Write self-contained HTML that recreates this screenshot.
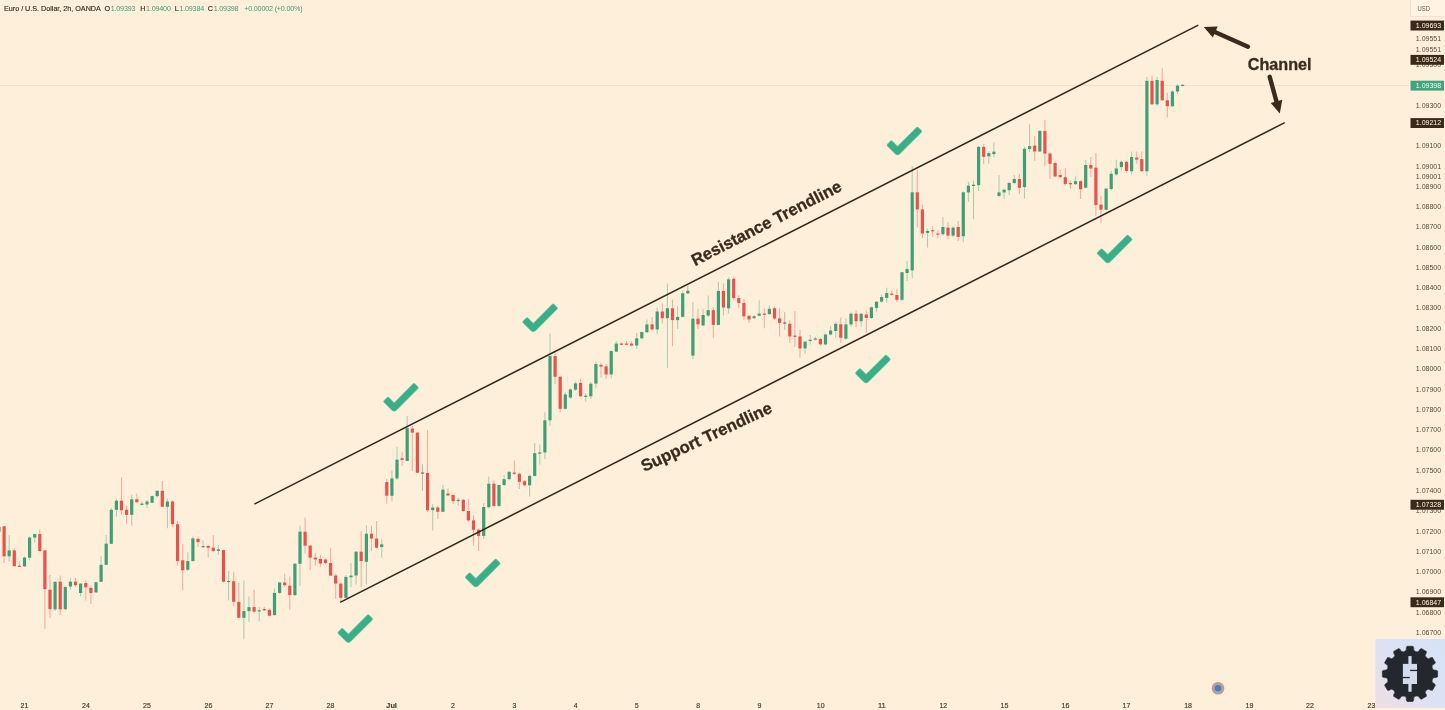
<!DOCTYPE html><html><head><meta charset="utf-8"><title>EURUSD Channel</title><style>html,body{margin:0;padding:0;background:#feefdb;}svg{display:block}</style></head><body><svg width="1445" height="710" viewBox="0 0 1445 710" font-family="Liberation Sans, Arial, sans-serif">
<rect width="1445" height="710" fill="#feefdb"/>
<line x1="0" y1="85.6" x2="1410" y2="85.6" stroke="#eee2cf" stroke-width="1"/>
<g><g stroke-width="1.1" opacity="0.42"><line x1="-1.0" y1="526.9" x2="-1.0" y2="531.7" stroke="#3f9f74"/><line x1="4.1" y1="526.3" x2="4.1" y2="563.0" stroke="#e7524a"/><line x1="9.2" y1="534.9" x2="9.2" y2="561.6" stroke="#3f9f74"/><line x1="14.3" y1="548.3" x2="14.3" y2="566.2" stroke="#e7524a"/><line x1="19.4" y1="561.6" x2="19.4" y2="567.0" stroke="#e7524a"/><line x1="24.5" y1="556.3" x2="24.5" y2="567.0" stroke="#3f9f74"/><line x1="29.6" y1="536.2" x2="29.6" y2="560.3" stroke="#3f9f74"/><line x1="34.7" y1="533.6" x2="34.7" y2="542.4" stroke="#3f9f74"/><line x1="39.8" y1="529.5" x2="39.8" y2="552.3" stroke="#e7524a"/><line x1="44.9" y1="550.4" x2="44.9" y2="629.1" stroke="#e7524a"/><line x1="50.0" y1="575.0" x2="50.0" y2="617.8" stroke="#e7524a"/><line x1="55.1" y1="581.7" x2="55.1" y2="611.1" stroke="#3f9f74"/><line x1="60.2" y1="575.6" x2="60.2" y2="615.1" stroke="#e7524a"/><line x1="65.3" y1="585.7" x2="65.3" y2="609.8" stroke="#3f9f74"/><line x1="70.4" y1="577.7" x2="70.4" y2="589.7" stroke="#3f9f74"/><line x1="75.5" y1="577.7" x2="75.5" y2="587.1" stroke="#e7524a"/><line x1="80.6" y1="583.0" x2="80.6" y2="596.4" stroke="#3f9f74"/><line x1="85.8" y1="580.4" x2="85.8" y2="600.4" stroke="#e7524a"/><line x1="90.9" y1="585.7" x2="90.9" y2="603.9" stroke="#e7524a"/><line x1="96.0" y1="581.7" x2="96.0" y2="592.9" stroke="#3f9f74"/><line x1="101.1" y1="556.3" x2="101.1" y2="581.7" stroke="#3f9f74"/><line x1="106.2" y1="534.9" x2="106.2" y2="564.9" stroke="#3f9f74"/><line x1="111.3" y1="508.1" x2="111.3" y2="543.7" stroke="#3f9f74"/><line x1="116.4" y1="498.8" x2="116.4" y2="516.7" stroke="#3f9f74"/><line x1="121.5" y1="477.4" x2="121.5" y2="514.8" stroke="#e7524a"/><line x1="126.6" y1="505.5" x2="126.6" y2="523.7" stroke="#e7524a"/><line x1="131.7" y1="494.8" x2="131.7" y2="525.5" stroke="#3f9f74"/><line x1="136.8" y1="493.4" x2="136.8" y2="502.8" stroke="#e7524a"/><line x1="141.9" y1="501.5" x2="141.9" y2="505.5" stroke="#3f9f74"/><line x1="147.0" y1="500.1" x2="147.0" y2="508.1" stroke="#3f9f74"/><line x1="152.1" y1="495.6" x2="152.1" y2="503.3" stroke="#3f9f74"/><line x1="157.2" y1="490.2" x2="157.2" y2="497.4" stroke="#3f9f74"/><line x1="162.3" y1="480.9" x2="162.3" y2="506.8" stroke="#e7524a"/><line x1="167.4" y1="498.8" x2="167.4" y2="528.2" stroke="#3f9f74"/><line x1="172.5" y1="500.1" x2="172.5" y2="526.9" stroke="#e7524a"/><line x1="177.6" y1="521.0" x2="177.6" y2="565.7" stroke="#e7524a"/><line x1="182.7" y1="544.3" x2="182.7" y2="590.3" stroke="#e7524a"/><line x1="187.8" y1="552.3" x2="187.8" y2="571.0" stroke="#3f9f74"/><line x1="192.9" y1="536.2" x2="192.9" y2="561.6" stroke="#3f9f74"/><line x1="198.0" y1="536.2" x2="198.0" y2="546.9" stroke="#e7524a"/><line x1="203.1" y1="540.2" x2="203.1" y2="547.7" stroke="#3f9f74"/><line x1="208.2" y1="545.1" x2="208.2" y2="557.6" stroke="#e7524a"/><line x1="213.3" y1="534.9" x2="213.3" y2="552.3" stroke="#e7524a"/><line x1="218.4" y1="545.1" x2="218.4" y2="555.0" stroke="#3f9f74"/><line x1="223.5" y1="549.6" x2="223.5" y2="582.5" stroke="#e7524a"/><line x1="228.6" y1="571.0" x2="228.6" y2="600.4" stroke="#3f9f74"/><line x1="233.7" y1="572.3" x2="233.7" y2="606.6" stroke="#e7524a"/><line x1="238.8" y1="582.5" x2="238.8" y2="617.8" stroke="#e7524a"/><line x1="243.9" y1="580.4" x2="243.9" y2="639.2" stroke="#3f9f74"/><line x1="249.0" y1="596.4" x2="249.0" y2="621.8" stroke="#3f9f74"/><line x1="254.1" y1="589.7" x2="254.1" y2="613.8" stroke="#e7524a"/><line x1="259.2" y1="607.1" x2="259.2" y2="621.3" stroke="#3f9f74"/><line x1="264.3" y1="607.1" x2="264.3" y2="611.1" stroke="#e7524a"/><line x1="269.4" y1="608.5" x2="269.4" y2="616.5" stroke="#e7524a"/><line x1="274.5" y1="588.4" x2="274.5" y2="615.7" stroke="#3f9f74"/><line x1="279.6" y1="581.7" x2="279.6" y2="593.7" stroke="#3f9f74"/><line x1="284.7" y1="573.7" x2="284.7" y2="587.1" stroke="#e7524a"/><line x1="289.8" y1="576.4" x2="289.8" y2="609.8" stroke="#e7524a"/><line x1="294.9" y1="563.0" x2="294.9" y2="595.9" stroke="#3f9f74"/><line x1="300.0" y1="525.5" x2="300.0" y2="585.7" stroke="#3f9f74"/><line x1="305.1" y1="517.5" x2="305.1" y2="553.6" stroke="#e7524a"/><line x1="310.2" y1="545.1" x2="310.2" y2="569.7" stroke="#e7524a"/><line x1="315.3" y1="553.6" x2="315.3" y2="565.7" stroke="#e7524a"/><line x1="320.4" y1="555.0" x2="320.4" y2="567.0" stroke="#e7524a"/><line x1="325.5" y1="558.4" x2="325.5" y2="564.3" stroke="#e7524a"/><line x1="330.6" y1="548.3" x2="330.6" y2="575.6" stroke="#e7524a"/><line x1="335.7" y1="573.7" x2="335.7" y2="599.1" stroke="#e7524a"/><line x1="340.8" y1="581.7" x2="340.8" y2="601.8" stroke="#e7524a"/><line x1="345.9" y1="575.0" x2="345.9" y2="598.6" stroke="#3f9f74"/><line x1="351.0" y1="563.0" x2="351.0" y2="587.1" stroke="#3f9f74"/><line x1="356.1" y1="550.9" x2="356.1" y2="584.4" stroke="#3f9f74"/><line x1="361.2" y1="530.9" x2="361.2" y2="587.1" stroke="#e7524a"/><line x1="366.4" y1="525.2" x2="366.4" y2="584.6" stroke="#3f9f74"/><line x1="371.5" y1="525.7" x2="371.5" y2="551.1" stroke="#e7524a"/><line x1="376.6" y1="520.9" x2="376.6" y2="548.5" stroke="#e7524a"/><line x1="381.7" y1="539.1" x2="381.7" y2="557.8" stroke="#3f9f74"/><line x1="386.8" y1="478.9" x2="386.8" y2="503.8" stroke="#e7524a"/><line x1="391.9" y1="470.3" x2="391.9" y2="501.6" stroke="#3f9f74"/><line x1="397.0" y1="446.8" x2="397.0" y2="480.2" stroke="#3f9f74"/><line x1="402.1" y1="452.2" x2="402.1" y2="465.5" stroke="#e7524a"/><line x1="407.2" y1="416.0" x2="407.2" y2="461.0" stroke="#3f9f74"/><line x1="412.3" y1="425.4" x2="412.3" y2="470.9" stroke="#e7524a"/><line x1="417.4" y1="432.1" x2="417.4" y2="473.6" stroke="#e7524a"/><line x1="422.5" y1="464.2" x2="422.5" y2="490.9" stroke="#7a6a60"/><line x1="427.6" y1="430.0" x2="427.6" y2="512.3" stroke="#e7524a"/><line x1="432.7" y1="504.3" x2="432.7" y2="530.5" stroke="#3f9f74"/><line x1="437.8" y1="505.7" x2="437.8" y2="519.0" stroke="#e7524a"/><line x1="442.9" y1="485.1" x2="442.9" y2="512.3" stroke="#3f9f74"/><line x1="448.0" y1="488.3" x2="448.0" y2="496.3" stroke="#e7524a"/><line x1="453.1" y1="493.6" x2="453.1" y2="504.3" stroke="#e7524a"/><line x1="458.2" y1="497.6" x2="458.2" y2="505.7" stroke="#3f9f74"/><line x1="463.3" y1="499.0" x2="463.3" y2="512.3" stroke="#e7524a"/><line x1="468.4" y1="499.0" x2="468.4" y2="521.7" stroke="#e7524a"/><line x1="473.5" y1="515.0" x2="473.5" y2="545.8" stroke="#e7524a"/><line x1="478.6" y1="528.4" x2="478.6" y2="551.1" stroke="#e7524a"/><line x1="483.7" y1="503.0" x2="483.7" y2="539.1" stroke="#3f9f74"/><line x1="488.8" y1="476.5" x2="488.8" y2="508.6" stroke="#3f9f74"/><line x1="493.9" y1="480.5" x2="493.9" y2="507.2" stroke="#e7524a"/><line x1="499.0" y1="484.5" x2="499.0" y2="507.2" stroke="#3f9f74"/><line x1="504.1" y1="475.1" x2="504.1" y2="485.8" stroke="#3f9f74"/><line x1="509.2" y1="471.1" x2="509.2" y2="480.5" stroke="#3f9f74"/><line x1="514.3" y1="460.4" x2="514.3" y2="475.1" stroke="#e7524a"/><line x1="519.4" y1="472.5" x2="519.4" y2="489.1" stroke="#e7524a"/><line x1="524.5" y1="480.0" x2="524.5" y2="485.8" stroke="#e7524a"/><line x1="529.6" y1="474.6" x2="529.6" y2="496.5" stroke="#3f9f74"/><line x1="534.7" y1="443.0" x2="534.7" y2="476.5" stroke="#3f9f74"/><line x1="539.8" y1="444.4" x2="539.8" y2="464.4" stroke="#3f9f74"/><line x1="544.9" y1="412.3" x2="544.9" y2="459.1" stroke="#3f9f74"/><line x1="550.0" y1="333.4" x2="550.0" y2="425.7" stroke="#3f9f74"/><line x1="555.1" y1="352.1" x2="555.1" y2="384.2" stroke="#e7524a"/><line x1="560.2" y1="376.2" x2="560.2" y2="412.3" stroke="#e7524a"/><line x1="565.3" y1="392.2" x2="565.3" y2="409.6" stroke="#3f9f74"/><line x1="570.4" y1="388.2" x2="570.4" y2="398.9" stroke="#3f9f74"/><line x1="575.5" y1="381.5" x2="575.5" y2="390.9" stroke="#3f9f74"/><line x1="580.6" y1="378.8" x2="580.6" y2="397.0" stroke="#e7524a"/><line x1="585.7" y1="393.6" x2="585.7" y2="401.6" stroke="#3f9f74"/><line x1="590.8" y1="382.1" x2="590.8" y2="398.9" stroke="#3f9f74"/><line x1="595.9" y1="361.5" x2="595.9" y2="388.2" stroke="#3f9f74"/><line x1="601.0" y1="362.8" x2="601.0" y2="377.5" stroke="#e7524a"/><line x1="606.1" y1="363.7" x2="606.1" y2="378.4" stroke="#e7524a"/><line x1="611.2" y1="350.3" x2="611.2" y2="378.4" stroke="#3f9f74"/><line x1="616.3" y1="340.9" x2="616.3" y2="352.2" stroke="#3f9f74"/><line x1="621.4" y1="342.3" x2="621.4" y2="345.5" stroke="#e7524a"/><line x1="626.5" y1="340.9" x2="626.5" y2="345.5" stroke="#e7524a"/><line x1="631.6" y1="340.9" x2="631.6" y2="346.3" stroke="#e7524a"/><line x1="636.7" y1="332.9" x2="636.7" y2="349.0" stroke="#3f9f74"/><line x1="641.8" y1="331.6" x2="641.8" y2="339.6" stroke="#3f9f74"/><line x1="646.9" y1="319.5" x2="646.9" y2="332.9" stroke="#3f9f74"/><line x1="652.1" y1="316.9" x2="652.1" y2="330.2" stroke="#e7524a"/><line x1="657.2" y1="307.5" x2="657.2" y2="334.3" stroke="#3f9f74"/><line x1="662.3" y1="303.5" x2="662.3" y2="323.6" stroke="#e7524a"/><line x1="667.4" y1="283.4" x2="667.4" y2="367.7" stroke="#3f9f74"/><line x1="672.5" y1="299.5" x2="672.5" y2="346.3" stroke="#e7524a"/><line x1="677.6" y1="306.2" x2="677.6" y2="328.9" stroke="#3f9f74"/><line x1="682.7" y1="291.5" x2="682.7" y2="317.4" stroke="#3f9f74"/><line x1="687.8" y1="286.1" x2="687.8" y2="294.1" stroke="#3f9f74"/><line x1="692.9" y1="302.2" x2="692.9" y2="359.1" stroke="#3f9f74"/><line x1="698.0" y1="308.8" x2="698.0" y2="328.9" stroke="#e7524a"/><line x1="703.1" y1="308.8" x2="703.1" y2="326.2" stroke="#3f9f74"/><line x1="708.2" y1="295.5" x2="708.2" y2="316.9" stroke="#3f9f74"/><line x1="713.3" y1="307.5" x2="713.3" y2="338.3" stroke="#e7524a"/><line x1="718.4" y1="282.1" x2="718.4" y2="325.4" stroke="#3f9f74"/><line x1="723.5" y1="283.4" x2="723.5" y2="315.5" stroke="#e7524a"/><line x1="728.6" y1="277.5" x2="728.6" y2="313.6" stroke="#3f9f74"/><line x1="733.7" y1="277.5" x2="733.7" y2="300.2" stroke="#e7524a"/><line x1="738.8" y1="294.9" x2="738.8" y2="308.3" stroke="#e7524a"/><line x1="743.9" y1="298.9" x2="743.9" y2="320.3" stroke="#e7524a"/><line x1="749.0" y1="315.0" x2="749.0" y2="323.0" stroke="#e7524a"/><line x1="754.1" y1="315.0" x2="754.1" y2="319.0" stroke="#3f9f74"/><line x1="759.2" y1="300.2" x2="759.2" y2="316.3" stroke="#3f9f74"/><line x1="764.3" y1="308.3" x2="764.3" y2="328.3" stroke="#e7524a"/><line x1="769.4" y1="305.6" x2="769.4" y2="315.0" stroke="#3f9f74"/><line x1="774.5" y1="306.1" x2="774.5" y2="319.5" stroke="#e7524a"/><line x1="779.6" y1="308.3" x2="779.6" y2="336.4" stroke="#e7524a"/><line x1="784.7" y1="312.3" x2="784.7" y2="329.7" stroke="#7a6a60"/><line x1="789.8" y1="320.3" x2="789.8" y2="343.0" stroke="#e7524a"/><line x1="794.9" y1="310.9" x2="794.9" y2="347.1" stroke="#e7524a"/><line x1="800.0" y1="329.7" x2="800.0" y2="357.8" stroke="#e7524a"/><line x1="805.1" y1="340.4" x2="805.1" y2="353.7" stroke="#3f9f74"/><line x1="810.2" y1="335.0" x2="810.2" y2="344.4" stroke="#3f9f74"/><line x1="815.3" y1="336.4" x2="815.3" y2="340.4" stroke="#3f9f74"/><line x1="820.4" y1="337.7" x2="820.4" y2="345.7" stroke="#e7524a"/><line x1="825.5" y1="333.7" x2="825.5" y2="345.2" stroke="#3f9f74"/><line x1="830.6" y1="325.7" x2="830.6" y2="335.6" stroke="#3f9f74"/><line x1="835.7" y1="321.6" x2="835.7" y2="337.7" stroke="#3f9f74"/><line x1="840.8" y1="317.6" x2="840.8" y2="343.0" stroke="#e7524a"/><line x1="845.9" y1="318.5" x2="845.9" y2="339.9" stroke="#3f9f74"/><line x1="851.0" y1="311.8" x2="851.0" y2="326.5" stroke="#3f9f74"/><line x1="856.1" y1="310.5" x2="856.1" y2="327.1" stroke="#e7524a"/><line x1="861.2" y1="313.2" x2="861.2" y2="326.5" stroke="#3f9f74"/><line x1="866.3" y1="310.5" x2="866.3" y2="333.2" stroke="#e7524a"/><line x1="871.4" y1="306.5" x2="871.4" y2="319.1" stroke="#3f9f74"/><line x1="876.5" y1="301.1" x2="876.5" y2="311.8" stroke="#3f9f74"/><line x1="881.6" y1="294.4" x2="881.6" y2="303.0" stroke="#3f9f74"/><line x1="886.7" y1="287.8" x2="886.7" y2="302.5" stroke="#3f9f74"/><line x1="891.8" y1="290.4" x2="891.8" y2="295.8" stroke="#e7524a"/><line x1="896.9" y1="289.1" x2="896.9" y2="301.9" stroke="#e7524a"/><line x1="902.0" y1="271.7" x2="902.0" y2="301.1" stroke="#3f9f74"/><line x1="907.1" y1="261.0" x2="907.1" y2="281.1" stroke="#3f9f74"/><line x1="912.2" y1="166.0" x2="912.2" y2="278.4" stroke="#3f9f74"/><line x1="917.3" y1="170.1" x2="917.3" y2="227.6" stroke="#e7524a"/><line x1="922.4" y1="204.8" x2="922.4" y2="238.3" stroke="#e7524a"/><line x1="927.5" y1="228.9" x2="927.5" y2="247.6" stroke="#3f9f74"/><line x1="932.7" y1="226.2" x2="932.7" y2="236.9" stroke="#e7524a"/><line x1="937.8" y1="230.2" x2="937.8" y2="238.3" stroke="#e7524a"/><line x1="942.9" y1="216.9" x2="942.9" y2="235.6" stroke="#3f9f74"/><line x1="948.0" y1="222.2" x2="948.0" y2="239.6" stroke="#e7524a"/><line x1="953.1" y1="226.2" x2="953.1" y2="236.9" stroke="#3f9f74"/><line x1="958.2" y1="220.9" x2="958.2" y2="240.9" stroke="#e7524a"/><line x1="963.3" y1="191.5" x2="963.3" y2="242.3" stroke="#3f9f74"/><line x1="968.4" y1="181.7" x2="968.4" y2="201.8" stroke="#3f9f74"/><line x1="973.5" y1="180.4" x2="973.5" y2="219.2" stroke="#3f9f74"/><line x1="978.6" y1="146.1" x2="978.6" y2="191.1" stroke="#3f9f74"/><line x1="983.7" y1="144.3" x2="983.7" y2="164.3" stroke="#e7524a"/><line x1="988.8" y1="150.9" x2="988.8" y2="163.8" stroke="#3f9f74"/><line x1="993.9" y1="142.4" x2="993.9" y2="157.6" stroke="#3f9f74"/><line x1="999.0" y1="175.0" x2="999.0" y2="197.0" stroke="#3f9f74"/><line x1="1004.1" y1="188.4" x2="1004.1" y2="199.1" stroke="#3f9f74"/><line x1="1009.2" y1="181.7" x2="1009.2" y2="195.1" stroke="#3f9f74"/><line x1="1014.3" y1="175.0" x2="1014.3" y2="184.4" stroke="#3f9f74"/><line x1="1019.4" y1="173.7" x2="1019.4" y2="193.7" stroke="#e7524a"/><line x1="1024.5" y1="146.9" x2="1024.5" y2="198.6" stroke="#3f9f74"/><line x1="1029.6" y1="124.2" x2="1029.6" y2="152.3" stroke="#3f9f74"/><line x1="1034.7" y1="136.2" x2="1034.7" y2="161.1" stroke="#e7524a"/><line x1="1039.8" y1="130.1" x2="1039.8" y2="152.3" stroke="#3f9f74"/><line x1="1044.9" y1="120.2" x2="1044.9" y2="165.7" stroke="#e7524a"/><line x1="1050.0" y1="152.3" x2="1050.0" y2="179.0" stroke="#e7524a"/><line x1="1055.1" y1="161.6" x2="1055.1" y2="177.2" stroke="#e7524a"/><line x1="1060.2" y1="169.7" x2="1060.2" y2="178.2" stroke="#e7524a"/><line x1="1065.3" y1="168.3" x2="1065.3" y2="185.2" stroke="#e7524a"/><line x1="1070.4" y1="180.4" x2="1070.4" y2="188.4" stroke="#e7524a"/><line x1="1075.5" y1="176.4" x2="1075.5" y2="185.2" stroke="#3f9f74"/><line x1="1080.6" y1="180.4" x2="1080.6" y2="199.1" stroke="#e7524a"/><line x1="1085.7" y1="159.7" x2="1085.7" y2="188.6" stroke="#3f9f74"/><line x1="1090.8" y1="157.0" x2="1090.8" y2="177.1" stroke="#e7524a"/><line x1="1095.9" y1="153.0" x2="1095.9" y2="215.8" stroke="#e7524a"/><line x1="1101.0" y1="195.8" x2="1101.0" y2="223.3" stroke="#e7524a"/><line x1="1106.1" y1="187.8" x2="1106.1" y2="210.5" stroke="#3f9f74"/><line x1="1111.2" y1="170.9" x2="1111.2" y2="190.4" stroke="#3f9f74"/><line x1="1116.3" y1="159.7" x2="1116.3" y2="175.7" stroke="#3f9f74"/><line x1="1121.4" y1="160.2" x2="1121.4" y2="170.4" stroke="#3f9f74"/><line x1="1126.5" y1="161.0" x2="1126.5" y2="173.0" stroke="#e7524a"/><line x1="1131.6" y1="151.6" x2="1131.6" y2="174.4" stroke="#3f9f74"/><line x1="1136.7" y1="151.6" x2="1136.7" y2="163.7" stroke="#e7524a"/><line x1="1141.8" y1="151.6" x2="1141.8" y2="171.7" stroke="#e7524a"/><line x1="1146.9" y1="76.7" x2="1146.9" y2="175.7" stroke="#3f9f74"/><line x1="1152.0" y1="75.4" x2="1152.0" y2="104.8" stroke="#e7524a"/><line x1="1157.1" y1="76.7" x2="1157.1" y2="106.2" stroke="#3f9f74"/><line x1="1162.2" y1="68.2" x2="1162.2" y2="100.8" stroke="#e7524a"/><line x1="1167.3" y1="92.8" x2="1167.3" y2="117.4" stroke="#e7524a"/><line x1="1172.4" y1="90.1" x2="1172.4" y2="107.5" stroke="#3f9f74"/><line x1="1177.5" y1="84.2" x2="1177.5" y2="94.1" stroke="#3f9f74"/><line x1="1182.6" y1="84.2" x2="1182.6" y2="86.4" stroke="#3f9f74"/></g>
<g><rect x="-2.6" y="526.9" width="3.2" height="4.8" fill="#3f9f74"/><rect x="2.5" y="526.3" width="3.2" height="30.0" fill="#e7524a"/><rect x="7.6" y="550.4" width="3.2" height="5.9" fill="#3f9f74"/><rect x="12.7" y="550.4" width="3.2" height="15.8" fill="#e7524a"/><rect x="17.8" y="565.7" width="3.2" height="1.2" fill="#e7524a"/><rect x="22.9" y="557.6" width="3.2" height="8.8" fill="#3f9f74"/><rect x="28.0" y="537.6" width="3.2" height="20.1" fill="#3f9f74"/><rect x="33.1" y="534.1" width="3.2" height="3.5" fill="#3f9f74"/><rect x="38.2" y="534.1" width="3.2" height="16.9" fill="#e7524a"/><rect x="43.3" y="550.4" width="3.2" height="38.8" fill="#e7524a"/><rect x="48.4" y="589.7" width="3.2" height="19.5" fill="#e7524a"/><rect x="53.5" y="581.7" width="3.2" height="27.6" fill="#3f9f74"/><rect x="58.6" y="581.7" width="3.2" height="27.6" fill="#e7524a"/><rect x="63.7" y="587.1" width="3.2" height="22.2" fill="#3f9f74"/><rect x="68.8" y="581.7" width="3.2" height="4.8" fill="#3f9f74"/><rect x="73.9" y="581.7" width="3.2" height="3.5" fill="#e7524a"/><rect x="79.0" y="583.6" width="3.2" height="9.4" fill="#3f9f74"/><rect x="84.2" y="583.0" width="3.2" height="4.3" fill="#e7524a"/><rect x="89.3" y="587.9" width="3.2" height="5.1" fill="#e7524a"/><rect x="94.4" y="582.2" width="3.2" height="10.2" fill="#3f9f74"/><rect x="99.5" y="564.9" width="3.2" height="16.9" fill="#3f9f74"/><rect x="104.6" y="543.7" width="3.2" height="21.1" fill="#3f9f74"/><rect x="109.7" y="509.8" width="3.2" height="34.0" fill="#3f9f74"/><rect x="114.8" y="500.7" width="3.2" height="9.1" fill="#3f9f74"/><rect x="119.9" y="500.7" width="3.2" height="9.6" fill="#e7524a"/><rect x="125.0" y="509.8" width="3.2" height="5.1" fill="#e7524a"/><rect x="130.1" y="499.3" width="3.2" height="15.5" fill="#3f9f74"/><rect x="135.2" y="499.3" width="3.2" height="2.9" fill="#e7524a"/><rect x="140.3" y="503.6" width="3.2" height="1.3" fill="#3f9f74"/><rect x="145.4" y="501.5" width="3.2" height="2.9" fill="#3f9f74"/><rect x="150.5" y="496.1" width="3.2" height="6.7" fill="#3f9f74"/><rect x="155.6" y="490.8" width="3.2" height="5.3" fill="#3f9f74"/><rect x="160.7" y="490.8" width="3.2" height="16.0" fill="#e7524a"/><rect x="165.8" y="501.5" width="3.2" height="5.3" fill="#3f9f74"/><rect x="170.9" y="501.5" width="3.2" height="22.7" fill="#e7524a"/><rect x="176.0" y="524.2" width="3.2" height="36.9" fill="#e7524a"/><rect x="181.1" y="560.3" width="3.2" height="9.9" fill="#e7524a"/><rect x="186.2" y="561.1" width="3.2" height="8.6" fill="#3f9f74"/><rect x="191.3" y="538.4" width="3.2" height="22.7" fill="#3f9f74"/><rect x="196.4" y="538.9" width="3.2" height="3.2" fill="#e7524a"/><rect x="201.5" y="546.1" width="3.2" height="1.2" fill="#3f9f74"/><rect x="206.6" y="545.9" width="3.2" height="1.9" fill="#e7524a"/><rect x="211.7" y="547.7" width="3.2" height="3.2" fill="#e7524a"/><rect x="216.8" y="549.3" width="3.2" height="1.6" fill="#3f9f74"/><rect x="221.9" y="550.1" width="3.2" height="31.6" fill="#e7524a"/><rect x="227.0" y="580.9" width="3.2" height="1.2" fill="#3f9f74"/><rect x="232.1" y="581.2" width="3.2" height="20.6" fill="#e7524a"/><rect x="237.2" y="601.8" width="3.2" height="16.0" fill="#e7524a"/><rect x="242.3" y="611.1" width="3.2" height="6.7" fill="#3f9f74"/><rect x="247.4" y="607.1" width="3.2" height="4.0" fill="#3f9f74"/><rect x="252.5" y="607.1" width="3.2" height="4.5" fill="#e7524a"/><rect x="257.6" y="610.3" width="3.2" height="1.2" fill="#3f9f74"/><rect x="262.7" y="609.0" width="3.2" height="1.3" fill="#e7524a"/><rect x="267.8" y="609.8" width="3.2" height="5.9" fill="#e7524a"/><rect x="272.9" y="592.9" width="3.2" height="22.2" fill="#3f9f74"/><rect x="278.0" y="582.5" width="3.2" height="10.4" fill="#3f9f74"/><rect x="283.1" y="582.5" width="3.2" height="2.7" fill="#e7524a"/><rect x="288.2" y="585.7" width="3.2" height="9.4" fill="#e7524a"/><rect x="293.3" y="563.8" width="3.2" height="31.3" fill="#3f9f74"/><rect x="298.4" y="531.7" width="3.2" height="32.1" fill="#3f9f74"/><rect x="303.5" y="531.7" width="3.2" height="13.9" fill="#e7524a"/><rect x="308.6" y="545.6" width="3.2" height="12.0" fill="#e7524a"/><rect x="313.7" y="557.6" width="3.2" height="1.9" fill="#e7524a"/><rect x="318.8" y="559.0" width="3.2" height="4.5" fill="#e7524a"/><rect x="323.9" y="559.5" width="3.2" height="3.5" fill="#e7524a"/><rect x="329.0" y="563.0" width="3.2" height="12.6" fill="#e7524a"/><rect x="334.1" y="575.6" width="3.2" height="8.0" fill="#e7524a"/><rect x="339.2" y="583.6" width="3.2" height="14.2" fill="#e7524a"/><rect x="344.3" y="576.9" width="3.2" height="20.9" fill="#3f9f74"/><rect x="349.4" y="575.6" width="3.2" height="1.6" fill="#3f9f74"/><rect x="354.5" y="551.7" width="3.2" height="23.8" fill="#3f9f74"/><rect x="359.6" y="551.7" width="3.2" height="9.4" fill="#e7524a"/><rect x="364.8" y="533.7" width="3.2" height="28.1" fill="#3f9f74"/><rect x="369.9" y="533.7" width="3.2" height="4.8" fill="#e7524a"/><rect x="375.0" y="538.6" width="3.2" height="9.1" fill="#e7524a"/><rect x="380.1" y="544.4" width="3.2" height="2.7" fill="#3f9f74"/><rect x="385.2" y="482.1" width="3.2" height="13.6" fill="#e7524a"/><rect x="390.3" y="478.4" width="3.2" height="17.4" fill="#3f9f74"/><rect x="395.4" y="459.7" width="3.2" height="18.7" fill="#3f9f74"/><rect x="400.5" y="458.3" width="3.2" height="1.6" fill="#e7524a"/><rect x="405.6" y="428.1" width="3.2" height="32.9" fill="#3f9f74"/><rect x="410.7" y="428.6" width="3.2" height="4.0" fill="#e7524a"/><rect x="415.8" y="432.6" width="3.2" height="40.1" fill="#e7524a"/><rect x="420.9" y="472.5" width="3.2" height="1.2" fill="#7a6a60"/><rect x="426.0" y="473.0" width="3.2" height="37.2" fill="#e7524a"/><rect x="431.1" y="507.5" width="3.2" height="2.7" fill="#3f9f74"/><rect x="436.2" y="507.5" width="3.2" height="4.3" fill="#e7524a"/><rect x="441.3" y="489.6" width="3.2" height="22.2" fill="#3f9f74"/><rect x="446.4" y="493.6" width="3.2" height="1.9" fill="#e7524a"/><rect x="451.5" y="495.0" width="3.2" height="6.2" fill="#e7524a"/><rect x="456.6" y="499.8" width="3.2" height="1.3" fill="#3f9f74"/><rect x="461.7" y="499.8" width="3.2" height="11.2" fill="#e7524a"/><rect x="466.8" y="511.0" width="3.2" height="9.4" fill="#e7524a"/><rect x="471.9" y="520.4" width="3.2" height="9.4" fill="#e7524a"/><rect x="477.0" y="529.7" width="3.2" height="6.2" fill="#e7524a"/><rect x="482.1" y="507.0" width="3.2" height="28.9" fill="#3f9f74"/><rect x="487.2" y="483.7" width="3.2" height="23.5" fill="#3f9f74"/><rect x="492.3" y="483.7" width="3.2" height="22.2" fill="#e7524a"/><rect x="497.4" y="485.0" width="3.2" height="20.9" fill="#3f9f74"/><rect x="502.5" y="479.2" width="3.2" height="5.9" fill="#3f9f74"/><rect x="507.6" y="471.9" width="3.2" height="7.2" fill="#3f9f74"/><rect x="512.7" y="472.5" width="3.2" height="1.3" fill="#e7524a"/><rect x="517.8" y="473.8" width="3.2" height="8.0" fill="#e7524a"/><rect x="522.9" y="481.3" width="3.2" height="4.0" fill="#e7524a"/><rect x="528.0" y="475.9" width="3.2" height="9.4" fill="#3f9f74"/><rect x="533.1" y="453.2" width="3.2" height="22.7" fill="#3f9f74"/><rect x="538.2" y="452.4" width="3.2" height="1.3" fill="#3f9f74"/><rect x="543.3" y="420.3" width="3.2" height="32.1" fill="#3f9f74"/><rect x="548.4" y="356.1" width="3.2" height="64.2" fill="#3f9f74"/><rect x="553.5" y="356.1" width="3.2" height="20.6" fill="#e7524a"/><rect x="558.6" y="376.7" width="3.2" height="32.1" fill="#e7524a"/><rect x="563.7" y="394.4" width="3.2" height="14.4" fill="#3f9f74"/><rect x="568.8" y="389.5" width="3.2" height="8.0" fill="#3f9f74"/><rect x="573.9" y="383.4" width="3.2" height="6.2" fill="#3f9f74"/><rect x="579.0" y="382.9" width="3.2" height="13.4" fill="#e7524a"/><rect x="584.1" y="395.7" width="3.2" height="1.2" fill="#3f9f74"/><rect x="589.2" y="383.7" width="3.2" height="12.6" fill="#3f9f74"/><rect x="594.3" y="364.1" width="3.2" height="19.5" fill="#3f9f74"/><rect x="599.4" y="364.9" width="3.2" height="1.6" fill="#e7524a"/><rect x="604.5" y="366.4" width="3.2" height="8.0" fill="#e7524a"/><rect x="609.6" y="351.1" width="3.2" height="23.3" fill="#3f9f74"/><rect x="614.7" y="343.6" width="3.2" height="8.0" fill="#3f9f74"/><rect x="619.8" y="343.6" width="3.2" height="1.2" fill="#e7524a"/><rect x="624.9" y="343.6" width="3.2" height="1.2" fill="#e7524a"/><rect x="630.0" y="343.6" width="3.2" height="1.9" fill="#e7524a"/><rect x="635.1" y="338.3" width="3.2" height="7.2" fill="#3f9f74"/><rect x="640.2" y="332.1" width="3.2" height="6.2" fill="#3f9f74"/><rect x="645.3" y="324.4" width="3.2" height="7.8" fill="#3f9f74"/><rect x="650.5" y="324.4" width="3.2" height="5.1" fill="#e7524a"/><rect x="655.6" y="311.5" width="3.2" height="17.9" fill="#3f9f74"/><rect x="660.7" y="311.5" width="3.2" height="6.7" fill="#e7524a"/><rect x="665.8" y="308.3" width="3.2" height="9.9" fill="#3f9f74"/><rect x="670.9" y="308.3" width="3.2" height="11.8" fill="#e7524a"/><rect x="676.0" y="316.9" width="3.2" height="3.2" fill="#3f9f74"/><rect x="681.1" y="293.3" width="3.2" height="23.5" fill="#3f9f74"/><rect x="686.2" y="290.7" width="3.2" height="2.7" fill="#3f9f74"/><rect x="691.3" y="318.7" width="3.2" height="36.9" fill="#3f9f74"/><rect x="696.4" y="318.7" width="3.2" height="5.6" fill="#e7524a"/><rect x="701.5" y="315.0" width="3.2" height="10.4" fill="#3f9f74"/><rect x="706.6" y="310.2" width="3.2" height="5.3" fill="#3f9f74"/><rect x="711.7" y="310.2" width="3.2" height="14.7" fill="#e7524a"/><rect x="716.8" y="290.9" width="3.2" height="34.0" fill="#3f9f74"/><rect x="721.9" y="290.9" width="3.2" height="16.6" fill="#e7524a"/><rect x="727.0" y="279.4" width="3.2" height="28.9" fill="#3f9f74"/><rect x="732.1" y="278.8" width="3.2" height="19.3" fill="#e7524a"/><rect x="737.2" y="298.1" width="3.2" height="4.8" fill="#e7524a"/><rect x="742.3" y="302.9" width="3.2" height="13.4" fill="#e7524a"/><rect x="747.4" y="315.8" width="3.2" height="3.7" fill="#e7524a"/><rect x="752.5" y="316.3" width="3.2" height="1.9" fill="#3f9f74"/><rect x="757.6" y="313.6" width="3.2" height="2.1" fill="#3f9f74"/><rect x="762.7" y="313.6" width="3.2" height="1.2" fill="#e7524a"/><rect x="767.8" y="308.8" width="3.2" height="5.3" fill="#3f9f74"/><rect x="772.9" y="308.3" width="3.2" height="10.2" fill="#e7524a"/><rect x="778.0" y="318.4" width="3.2" height="4.5" fill="#e7524a"/><rect x="783.1" y="322.4" width="3.2" height="1.2" fill="#7a6a60"/><rect x="788.2" y="323.8" width="3.2" height="12.6" fill="#e7524a"/><rect x="793.3" y="335.6" width="3.2" height="1.2" fill="#e7524a"/><rect x="798.4" y="336.4" width="3.2" height="12.0" fill="#e7524a"/><rect x="803.5" y="341.7" width="3.2" height="6.7" fill="#3f9f74"/><rect x="808.6" y="339.8" width="3.2" height="1.2" fill="#3f9f74"/><rect x="813.7" y="338.5" width="3.2" height="1.2" fill="#3f9f74"/><rect x="818.8" y="339.0" width="3.2" height="5.3" fill="#e7524a"/><rect x="823.9" y="334.5" width="3.2" height="9.9" fill="#3f9f74"/><rect x="829.0" y="330.5" width="3.2" height="4.0" fill="#3f9f74"/><rect x="834.1" y="323.8" width="3.2" height="7.2" fill="#3f9f74"/><rect x="839.2" y="324.3" width="3.2" height="13.4" fill="#e7524a"/><rect x="844.3" y="324.4" width="3.2" height="14.2" fill="#3f9f74"/><rect x="849.4" y="313.7" width="3.2" height="10.7" fill="#3f9f74"/><rect x="854.5" y="313.7" width="3.2" height="7.5" fill="#e7524a"/><rect x="859.6" y="313.7" width="3.2" height="7.5" fill="#3f9f74"/><rect x="864.7" y="314.5" width="3.2" height="3.5" fill="#e7524a"/><rect x="869.8" y="307.3" width="3.2" height="10.7" fill="#3f9f74"/><rect x="874.9" y="301.7" width="3.2" height="6.2" fill="#3f9f74"/><rect x="880.0" y="297.1" width="3.2" height="4.5" fill="#3f9f74"/><rect x="885.1" y="293.1" width="3.2" height="4.8" fill="#3f9f74"/><rect x="890.2" y="293.6" width="3.2" height="1.2" fill="#e7524a"/><rect x="895.3" y="295.0" width="3.2" height="4.8" fill="#e7524a"/><rect x="900.4" y="272.2" width="3.2" height="27.6" fill="#3f9f74"/><rect x="905.5" y="269.0" width="3.2" height="4.0" fill="#3f9f74"/><rect x="910.6" y="192.3" width="3.2" height="78.1" fill="#3f9f74"/><rect x="915.7" y="192.3" width="3.2" height="17.1" fill="#e7524a"/><rect x="920.8" y="209.4" width="3.2" height="24.1" fill="#e7524a"/><rect x="925.9" y="231.0" width="3.2" height="1.9" fill="#3f9f74"/><rect x="931.1" y="230.2" width="3.2" height="1.2" fill="#e7524a"/><rect x="936.2" y="233.5" width="3.2" height="1.2" fill="#e7524a"/><rect x="941.3" y="227.0" width="3.2" height="7.2" fill="#3f9f74"/><rect x="946.4" y="227.6" width="3.2" height="8.0" fill="#e7524a"/><rect x="951.5" y="227.6" width="3.2" height="8.0" fill="#3f9f74"/><rect x="956.6" y="227.0" width="3.2" height="9.9" fill="#e7524a"/><rect x="961.7" y="192.3" width="3.2" height="43.9" fill="#3f9f74"/><rect x="966.8" y="185.7" width="3.2" height="6.7" fill="#3f9f74"/><rect x="971.9" y="184.7" width="3.2" height="1.3" fill="#3f9f74"/><rect x="977.0" y="146.9" width="3.2" height="38.3" fill="#3f9f74"/><rect x="982.1" y="146.9" width="3.2" height="9.9" fill="#e7524a"/><rect x="987.2" y="153.1" width="3.2" height="3.2" fill="#3f9f74"/><rect x="992.3" y="151.7" width="3.2" height="2.4" fill="#3f9f74"/><rect x="997.4" y="192.4" width="3.2" height="3.5" fill="#3f9f74"/><rect x="1002.5" y="189.7" width="3.2" height="2.7" fill="#3f9f74"/><rect x="1007.6" y="183.0" width="3.2" height="7.2" fill="#3f9f74"/><rect x="1012.7" y="179.0" width="3.2" height="4.0" fill="#3f9f74"/><rect x="1017.8" y="179.0" width="3.2" height="8.8" fill="#e7524a"/><rect x="1022.9" y="148.8" width="3.2" height="38.3" fill="#3f9f74"/><rect x="1028.0" y="146.1" width="3.2" height="2.9" fill="#3f9f74"/><rect x="1033.1" y="145.6" width="3.2" height="5.9" fill="#e7524a"/><rect x="1038.2" y="130.9" width="3.2" height="20.6" fill="#3f9f74"/><rect x="1043.3" y="130.9" width="3.2" height="22.7" fill="#e7524a"/><rect x="1048.4" y="153.6" width="3.2" height="10.2" fill="#e7524a"/><rect x="1053.5" y="163.0" width="3.2" height="13.4" fill="#e7524a"/><rect x="1058.6" y="175.0" width="3.2" height="2.1" fill="#e7524a"/><rect x="1063.7" y="177.2" width="3.2" height="6.7" fill="#e7524a"/><rect x="1068.8" y="183.0" width="3.2" height="1.3" fill="#e7524a"/><rect x="1073.9" y="181.2" width="3.2" height="2.9" fill="#3f9f74"/><rect x="1079.0" y="181.2" width="3.2" height="8.0" fill="#e7524a"/><rect x="1084.1" y="165.0" width="3.2" height="22.7" fill="#3f9f74"/><rect x="1089.2" y="165.0" width="3.2" height="3.5" fill="#e7524a"/><rect x="1094.3" y="167.7" width="3.2" height="37.4" fill="#e7524a"/><rect x="1099.4" y="204.6" width="3.2" height="5.1" fill="#e7524a"/><rect x="1104.5" y="188.6" width="3.2" height="21.1" fill="#3f9f74"/><rect x="1109.6" y="173.8" width="3.2" height="15.2" fill="#3f9f74"/><rect x="1114.7" y="168.5" width="3.2" height="5.9" fill="#3f9f74"/><rect x="1119.8" y="161.8" width="3.2" height="5.3" fill="#3f9f74"/><rect x="1124.9" y="161.8" width="3.2" height="9.1" fill="#e7524a"/><rect x="1130.0" y="157.0" width="3.2" height="14.2" fill="#3f9f74"/><rect x="1135.1" y="157.5" width="3.2" height="2.1" fill="#e7524a"/><rect x="1140.2" y="159.1" width="3.2" height="12.0" fill="#e7524a"/><rect x="1145.3" y="80.8" width="3.2" height="90.4" fill="#3f9f74"/><rect x="1150.4" y="80.8" width="3.2" height="23.5" fill="#e7524a"/><rect x="1155.5" y="80.0" width="3.2" height="24.3" fill="#3f9f74"/><rect x="1160.6" y="80.8" width="3.2" height="19.5" fill="#e7524a"/><rect x="1165.7" y="100.3" width="3.2" height="5.9" fill="#e7524a"/><rect x="1170.8" y="91.5" width="3.2" height="14.7" fill="#3f9f74"/><rect x="1175.9" y="85.6" width="3.2" height="5.9" fill="#3f9f74"/><rect x="1181.0" y="84.8" width="3.2" height="1.2" fill="#3f9f74"/></g></g>
<g stroke="#33261a" stroke-width="1.5" stroke-linecap="butt"><line x1="254.3" y1="504.1" x2="1198.3" y2="25.2"/><line x1="340.1" y1="602.4" x2="1284.7" y2="122.6"/></g>
<defs><g id="ck"><path d="M2.12 19.00 L5.30 15.82 L11.45 21.97 L31.30 2.12 L34.48 5.30 L13.04 26.74 A2.25 2.25 0 0 1 9.86 26.74 Z" fill="#62c5a2" stroke="#62c5a2" stroke-width="3" stroke-linejoin="round"/><path d="M2.12 19.00 L5.30 15.82 L11.45 21.97 L31.30 2.12 L34.48 5.30 L13.04 26.74 A2.25 2.25 0 0 1 9.86 26.74 Z" fill="#3aae86" stroke="#3aae86" stroke-width="1.5" stroke-linejoin="round"/></g></defs>
<use href="#ck" x="382.7" y="382.5"/>
<use href="#ck" x="521.8" y="303"/>
<use href="#ck" x="886.1" y="126.1"/>
<use href="#ck" x="336.9" y="613.8"/>
<use href="#ck" x="464.4" y="558.2"/>
<use href="#ck" x="854.6" y="354.1"/>
<use href="#ck" x="1096.3" y="234.2"/>
<g fill="#3a2b1d" stroke="#3a2b1d" stroke-width="0.3" font-weight="bold" font-size="16.65">
<text transform="translate(694.9,266.3) rotate(-27.25)">Resistance Trendline</text>
<text transform="translate(644.3,472.1) rotate(-25.0)">Support Trendline</text>
<text x="1247.7" y="70.25" font-size="16.2">Channel</text>
</g>
<line x1="1248.0" y1="46.7" x2="1214.3" y2="31.7" stroke="#3a2b1d" stroke-width="4.4" stroke-linecap="round"/><polygon points="1203.8,27.0 1217.7,26.6 1212.8,37.6" fill="#3a2b1d"/>
<line x1="1269.7" y1="76.8" x2="1276.7" y2="102.3" stroke="#3a2b1d" stroke-width="4.4" stroke-linecap="round"/><polygon points="1279.8,113.4 1270.7,102.9 1282.3,99.8" fill="#3a2b1d"/>
<g font-size="7.2">
<text x="4" y="10.6" fill="#3a2e22" stroke="#3a2e22" stroke-width="0.15" textLength="96.8">Euro / U.S. Dollar, 2h, OANDA</text>
<text x="110.0" y="10.6" fill="#3a2e22" text-anchor="end" stroke="#3a2e22" stroke-width="0.15">O</text><text x="110.7" y="10.6" fill="#3c9b78" textLength="24.8">1.09393</text>
<text x="145.4" y="10.6" fill="#3a2e22" text-anchor="end" stroke="#3a2e22" stroke-width="0.15">H</text><text x="146.1" y="10.6" fill="#3c9b78" textLength="24.8">1.09400</text>
<text x="178.70000000000002" y="10.6" fill="#3a2e22" text-anchor="end" stroke="#3a2e22" stroke-width="0.15">L</text><text x="179.4" y="10.6" fill="#3c9b78" textLength="24.8">1.09384</text>
<text x="213.0" y="10.6" fill="#3a2e22" text-anchor="end" stroke="#3a2e22" stroke-width="0.15">C</text><text x="213.7" y="10.6" fill="#3c9b78" textLength="24.8">1.09398</text>
<text x="244.2" y="10.6" fill="#3c9b78" textLength="58.5">+0.00002 (+0.00%)</text>
</g>
<rect x="1410.5" y="-1" width="36" height="17.5" fill="#fff4e4" stroke="#f0e4d2" stroke-width="1"/>
<text x="1417.6" y="11.2" font-size="7" fill="#6a5a48" textLength="12.5" lengthAdjust="spacingAndGlyphs">USD</text>
<g font-size="7" fill="#5b4b3b">
<text x="1415.8" y="634.9">1.06700</text>
<text x="1415.8" y="614.6">1.06800</text>
<text x="1415.8" y="594.3">1.06900</text>
<text x="1415.8" y="574.1">1.07000</text>
<text x="1415.8" y="553.8">1.07100</text>
<text x="1415.8" y="533.5">1.07200</text>
<text x="1415.8" y="513.2">1.07300</text>
<text x="1415.8" y="492.9">1.07400</text>
<text x="1415.8" y="472.7">1.07500</text>
<text x="1415.8" y="452.4">1.07600</text>
<text x="1415.8" y="432.1">1.07700</text>
<text x="1415.8" y="411.8">1.07800</text>
<text x="1415.8" y="391.5">1.07900</text>
<text x="1415.8" y="371.2">1.08000</text>
<text x="1415.8" y="351.0">1.08100</text>
<text x="1415.8" y="330.7">1.08200</text>
<text x="1415.8" y="310.4">1.08300</text>
<text x="1415.8" y="290.1">1.08400</text>
<text x="1415.8" y="269.8">1.08500</text>
<text x="1415.8" y="249.6">1.08600</text>
<text x="1415.8" y="229.3">1.08700</text>
<text x="1415.8" y="209.0">1.08800</text>
<text x="1415.8" y="188.7">1.08900</text>
<text x="1415.8" y="148.2">1.09100</text>
<text x="1415.8" y="127.9">1.09200</text>
<text x="1415.8" y="107.6">1.09300</text>
<text x="1415.8" y="67.0">1.09500</text>
<text x="1415.8" y="41.1">1.09551</text>
<text x="1415.8" y="52.1">1.09551</text>
<text x="1415.8" y="168.5">1.09001</text>
<text x="1415.8" y="178.7">1.09001</text>
</g>
<rect x="1410.5" y="20.6" width="33.5" height="9.9" fill="#3b2a1a"/><text x="1415.8" y="27.9" font-size="7" fill="#fff6ea">1.09693</text>
<rect x="1410.5" y="54.9" width="33.5" height="9.9" fill="#3b2a1a"/><text x="1415.8" y="62.2" font-size="7" fill="#fff6ea">1.09524</text>
<rect x="1410.5" y="80.7" width="33.5" height="9.9" fill="#3ca67f"/><text x="1415.8" y="88.0" font-size="7" fill="#fff6ea">1.09398</text>
<rect x="1410.5" y="118.1" width="33.5" height="9.9" fill="#3b2a1a"/><text x="1415.8" y="125.4" font-size="7" fill="#fff6ea">1.09212</text>
<rect x="1410.5" y="499.8" width="33.5" height="9.9" fill="#3b2a1a"/><text x="1415.8" y="507.1" font-size="7" fill="#fff6ea">1.07328</text>
<rect x="1410.5" y="597.3" width="33.5" height="9.9" fill="#3b2a1a"/><text x="1415.8" y="604.6" font-size="7" fill="#fff6ea">1.06847</text>
<g font-size="7.7" fill="#4e3e2e" stroke="#4e3e2e" stroke-width="0.2" text-anchor="middle">
<text x="24.4" y="707.7" textLength="7.8" lengthAdjust="spacingAndGlyphs">21</text>
<text x="85.9" y="707.7" textLength="7.8" lengthAdjust="spacingAndGlyphs">24</text>
<text x="147.0" y="707.7" textLength="7.8" lengthAdjust="spacingAndGlyphs">25</text>
<text x="208.5" y="707.7" textLength="7.8" lengthAdjust="spacingAndGlyphs">26</text>
<text x="269.5" y="707.7" textLength="7.8" lengthAdjust="spacingAndGlyphs">27</text>
<text x="330.5" y="707.7" textLength="7.8" lengthAdjust="spacingAndGlyphs">28</text>
<text x="392.5" y="707.7" font-weight="bold" textLength="10.6" lengthAdjust="spacingAndGlyphs" dx="-0.9">Jul</text>
<text x="453.0" y="707.7" textLength="3.9" lengthAdjust="spacingAndGlyphs">2</text>
<text x="514.4" y="707.7" textLength="3.9" lengthAdjust="spacingAndGlyphs">3</text>
<text x="575.8" y="707.7" textLength="3.9" lengthAdjust="spacingAndGlyphs">4</text>
<text x="636.6" y="707.7" textLength="3.9" lengthAdjust="spacingAndGlyphs">5</text>
<text x="698.1" y="707.7" textLength="3.9" lengthAdjust="spacingAndGlyphs">8</text>
<text x="759.5" y="707.7" textLength="3.9" lengthAdjust="spacingAndGlyphs">9</text>
<text x="820.7" y="707.7" textLength="7.8" lengthAdjust="spacingAndGlyphs">10</text>
<text x="881.8" y="707.7" textLength="7.8" lengthAdjust="spacingAndGlyphs">11</text>
<text x="943.3" y="707.7" textLength="7.8" lengthAdjust="spacingAndGlyphs">12</text>
<text x="1004.4" y="707.7" textLength="7.8" lengthAdjust="spacingAndGlyphs">15</text>
<text x="1065.5" y="707.7" textLength="7.8" lengthAdjust="spacingAndGlyphs">16</text>
<text x="1126.5" y="707.7" textLength="7.8" lengthAdjust="spacingAndGlyphs">17</text>
<text x="1188.1" y="707.7" textLength="7.8" lengthAdjust="spacingAndGlyphs">18</text>
<text x="1249.5" y="707.7" textLength="7.8" lengthAdjust="spacingAndGlyphs">19</text>
<text x="1310.0" y="707.7" textLength="7.8" lengthAdjust="spacingAndGlyphs">22</text>
<text x="1371.5" y="707.7" textLength="7.8" lengthAdjust="spacingAndGlyphs">23</text>
</g>
<circle cx="1218" cy="688.3" r="6.3" fill="#dc8f8c"/><circle cx="1218" cy="688.3" r="5.2" fill="#a9a5b0"/><circle cx="1218" cy="688.3" r="3.3" fill="#3f86b5"/>
<defs><linearGradient id="lg" x1="0" y1="1" x2="1" y2="0"><stop offset="0" stop-color="#f0dde4"/><stop offset="0.45" stop-color="#dde2f3"/><stop offset="1" stop-color="#d6e2f8"/></linearGradient></defs>
<rect x="1375.4" y="639" width="70" height="69" fill="url(#lg)"/>
<path d="M1407.05 646.26 L1412.95 646.26 L1413.71 647.87 A3.15 3.15 0 0 0 1419.80 649.50 L1421.26 648.48 L1426.38 651.44 L1426.23 653.22 A3.15 3.15 0 0 0 1430.68 657.67 L1432.46 657.52 L1435.42 662.64 L1434.40 664.10 A3.15 3.15 0 0 0 1436.03 670.19 L1437.64 670.95 L1437.64 676.85 L1436.03 677.61 A3.15 3.15 0 0 0 1434.40 683.70 L1435.42 685.16 L1432.46 690.28 L1430.68 690.13 A3.15 3.15 0 0 0 1426.23 694.58 L1426.38 696.36 L1421.26 699.32 L1419.80 698.30 A3.15 3.15 0 0 0 1413.71 699.93 L1412.95 701.54 L1407.05 701.54 L1406.29 699.93 A3.15 3.15 0 0 0 1400.20 698.30 L1398.74 699.32 L1393.62 696.36 L1393.77 694.58 A3.15 3.15 0 0 0 1389.32 690.13 L1387.54 690.28 L1384.58 685.16 L1385.60 683.70 A3.15 3.15 0 0 0 1383.97 677.61 L1382.36 676.85 L1382.36 670.95 L1383.97 670.19 A3.15 3.15 0 0 0 1385.60 664.10 L1384.58 662.64 L1387.54 657.52 L1389.32 657.67 A3.15 3.15 0 0 0 1393.77 653.22 L1393.62 651.44 L1398.74 648.48 L1400.20 649.50 A3.15 3.15 0 0 0 1406.29 647.87 Z" fill="#25272f" stroke="#25272f" stroke-width="0.6" stroke-linejoin="round"/>
<rect x="1408.4" y="656.1" width="3.2" height="35.6" fill="#d4dbef"/>
<rect x="1402.9" y="663.9" width="14.1" height="20.1" fill="#d4dbef"/>
<rect x="1410.1" y="669.8" width="7.2" height="1.3" fill="#25272f"/>
<rect x="1402.6" y="676.9" width="7.2" height="1.3" fill="#25272f"/>
</svg></body></html>
